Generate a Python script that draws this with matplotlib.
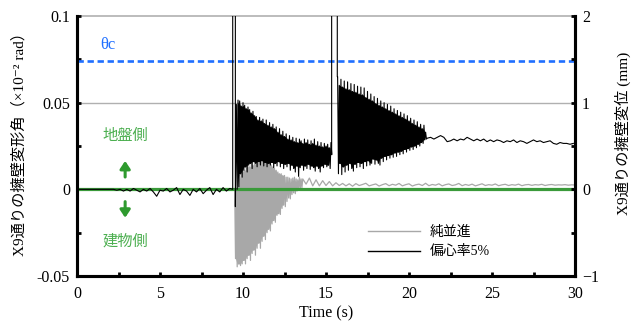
import numpy as np
import matplotlib
matplotlib.use("Agg")
import matplotlib.pyplot as plt
from matplotlib.lines import Line2D

plt.rcParams['font.family'] = ['Liberation Serif', 'Noto Sans CJK JP', 'DejaVu Sans']

# ---------------- data ----------------
# 純並進 (rotation angle, x10^-2 rad, left axis)
gray_pre_t = [0.0, 9.5]
gray_pre_v = [0.0, 0.0]
gray_dense_t0, gray_dense_dt = 9.5, 0.1
gray_dense_hi = [0.000, 0.000, 0.005, 0.008, 0.010, 0.012, 0.011, 0.013, 0.014, 0.013,
                 0.015, 0.014, 0.016, 0.015, 0.016, 0.017, 0.016, 0.017, 0.018, 0.017,
                 0.016, 0.015, 0.014, 0.013, 0.012, 0.011, 0.010, 0.009, 0.009, 0.008,
                 0.008, 0.007, 0.007, 0.0065, 0.006, 0.0065, 0.007, 0.006, 0.0055, 0.007,
                 0.006]
gray_dense_lo = [-0.040, -0.0447, -0.043, -0.044, -0.043, -0.041, -0.043, -0.040, -0.038, -0.041,
                 -0.037, -0.035, -0.038, -0.034, -0.031, -0.034, -0.030, -0.027, -0.029, -0.025,
                 -0.023, -0.024, -0.020, -0.018, -0.019, -0.015, -0.014, -0.0145, -0.011, -0.009,
                 -0.010, -0.007, -0.005, -0.0055, -0.003, -0.002, -0.0025, -0.001, 0.000, 0.0005,
                 0.001]
gray_tail_t0, gray_tail_dt = 13.6, 0.2
gray_tail_v = [0.006, 0.003, 0.0065, 0.002, 0.0055, 0.002, 0.005, 0.0022, 0.0045, 0.002,
               0.0038, 0.0022, 0.0034, 0.002, 0.0032, 0.0018, 0.0033, 0.0022, 0.0028, 0.0035,
               0.0020, 0.0026, 0.0031, 0.0019, 0.0027, 0.0033, 0.0021, 0.0029, 0.0024, 0.0034,
               0.0020, 0.0027, 0.0032, 0.0019, 0.0026, 0.0030, 0.0022, 0.0035, 0.0021, 0.0028,
               0.0024, 0.0032, 0.0020, 0.0027, 0.0031, 0.0022, 0.0026, 0.0034, 0.0021, 0.0028,
               0.0023, 0.0030, 0.0020, 0.0026, 0.0032, 0.0022, 0.0027, 0.0024, 0.0031, 0.0021,
               0.0026, 0.0029, 0.0022, 0.0027, 0.0024, 0.0030, 0.0021, 0.0026, 0.0028, 0.0023,
               0.0027, 0.0025, 0.0029, 0.0022, 0.0026, 0.0028, 0.0024, 0.0026, 0.0025, 0.0027,
               0.0024, 0.0026, 0.0025]

# 偏心率5% (displacement, mm, right axis)
blk_pre_t0, blk_pre_dt = 0.0, 0.2
blk_pre_v = [0.0, 0.0, 0.0, 0.0, 0.0, 0.0, 0.0, 0.0, 0.0, 0.0, 0.0, 0.0,
             -0.01, 0.00, -0.02, 0.00, -0.02, 0.01, -0.01, -0.03, 0.00, -0.02,
             0.01, -0.03, -0.08, -0.01, -0.02, 0.01, -0.03, -0.01, 0.02, -0.06,
             0.00, -0.02, -0.07, 0.00, -0.03, 0.01, -0.05, -0.01, 0.02, -0.06,
             0.00, -0.03, 0.02, -0.02, 0.01]
spike1_t = [9.36, 9.38, 9.38, 9.54, 9.54]
spike1_v = [0.0, 0.0, 10.0, 10.0, -0.20]
seg1_t0, seg1_dt = 9.6, 0.1
seg1_hi = [0.98, 1.03, 1.02, 0.96, 1.00, 0.97, 0.93, 0.95, 0.92, 0.88,
           0.90, 0.85, 0.84, 0.80, 0.83, 0.79, 0.81, 0.76, 0.80, 0.74,
           0.77, 0.72, 0.75, 0.70, 0.72, 0.66, 0.70, 0.63, 0.67, 0.61,
           0.64, 0.58, 0.62, 0.57, 0.60, 0.55, 0.59, 0.54, 0.58, 0.56,
           0.53, 0.58, 0.54, 0.57, 0.52, 0.56, 0.53, 0.58, 0.51, 0.55,
           0.50, 0.54, 0.49, 0.53, 0.50, 0.52, 0.48, 0.54]
seg1_lo = [0.00, 0.03, 0.18, 0.14, 0.22, 0.26, 0.20, 0.28, 0.30, 0.24,
           0.32, 0.30, 0.26, 0.32, 0.28, 0.33, 0.27, 0.31, 0.26, 0.30,
           0.28, 0.31, 0.25, 0.30, 0.27, 0.32, 0.26, 0.30, 0.24, 0.29,
           0.26, 0.30, 0.22, 0.28, 0.24, 0.20, 0.27, 0.15, 0.25, 0.28,
           0.22, 0.27, 0.24, 0.29, 0.23, 0.27, 0.25, 0.21, 0.27, 0.24,
           0.20, 0.27, 0.25, 0.29, 0.26, 0.28, 0.24, 0.40]
spike2_t = [15.34, 15.34, 15.68, 15.68]
spike2_v = [0.40, 10.0, 10.0, 1.30]
seg2_t0, seg2_dt = 15.7, 0.1
seg2_hi = [1.30, 1.20, 1.27, 1.18, 1.25, 1.16, 1.24, 1.15, 1.22, 1.13,
           1.21, 1.12, 1.19, 1.10, 1.18, 1.09, 1.17, 1.06, 1.13, 1.04,
           1.10, 1.02, 1.07, 0.99, 1.05, 0.97, 1.02, 0.95, 1.00, 0.93,
           0.98, 0.91, 0.96, 0.89, 0.93, 0.87, 0.91, 0.85, 0.89, 0.83,
           0.87, 0.81, 0.85, 0.79, 0.82, 0.76, 0.80, 0.74, 0.78, 0.72,
           0.75, 0.70, 0.74, 0.66]
seg2_lo = [0.18, 0.30, 0.17, 0.26, 0.20, 0.28, 0.22, 0.30, 0.24, 0.21,
           0.29, 0.25, 0.31, 0.26, 0.30, 0.24, 0.32, 0.27, 0.33, 0.28,
           0.30, 0.35, 0.29, 0.34, 0.30, 0.28, 0.36, 0.32, 0.38, 0.34,
           0.39, 0.36, 0.40, 0.37, 0.42, 0.38, 0.43, 0.40, 0.44, 0.41,
           0.46, 0.43, 0.47, 0.45, 0.49, 0.46, 0.50, 0.48, 0.52, 0.50,
           0.54, 0.53, 0.57, 0.58]
tail_t0, tail_dt = 21.1, 0.2
tail_v = [0.59, 0.60, 0.58, 0.60, 0.62, 0.60, 0.55, 0.56, 0.58, 0.56,
          0.58, 0.57, 0.60, 0.58, 0.56, 0.58, 0.56, 0.58, 0.55, 0.57,
          0.55, 0.57, 0.56, 0.54, 0.56, 0.55, 0.57, 0.54, 0.56, 0.55,
          0.53, 0.55, 0.57, 0.55, 0.56, 0.54, 0.55, 0.56, 0.53, 0.52,
          0.54, 0.53, 0.53, 0.52, 0.53]

theta_c = 0.074
series_labels = ['純並進', '偏心率5%']
x_ticks = [0, 5, 10, 15, 20, 25, 30]
yl_ticks = [-0.05, 0, 0.05, 0.1]
yl_labels = ['-0.05', '0', '0.05', '0.1']
yr_ticks = [-1, 0, 1, 2]


# ---------------- helpers ----------------
def regular(t0, dt, vals):
    return t0 + dt * np.arange(len(vals)), np.asarray(vals, float)


def zigzag(t0, dt, hi, lo):
    t = t0 + dt * np.arange(len(hi))
    x = np.empty(2 * len(hi)); y = np.empty(2 * len(hi))
    x[0::2] = t; x[1::2] = t + dt / 2
    y[0::2] = hi; y[1::2] = lo
    return x, y


def inner_band(t0, dt, hi, lo):
    # core band between neighbouring envelope values (spikes stick out of it)
    hi = np.asarray(hi, float); lo = np.asarray(lo, float)
    t = t0 + dt * np.arange(len(hi))
    return t[:-1] + dt / 2, np.minimum(hi[:-1], hi[1:]), np.maximum(lo[:-1], lo[1:])


gt_d, gv_d = zigzag(gray_dense_t0, gray_dense_dt, gray_dense_hi, gray_dense_lo)
gt_t, gv_t = regular(gray_tail_t0, gray_tail_dt, gray_tail_v)
gray_t = np.concatenate([gray_pre_t, gt_d, gt_t])
gray_v = np.concatenate([gray_pre_v, gv_d, gv_t])

bt_p, bv_p = regular(blk_pre_t0, blk_pre_dt, blk_pre_v)
bt_1, bv_1 = zigzag(seg1_t0, seg1_dt, seg1_hi, seg1_lo)
bt_2, bv_2 = zigzag(seg2_t0, seg2_dt, seg2_hi, seg2_lo)
bt_t, bv_t = regular(tail_t0, tail_dt, tail_v)
blk_t = np.concatenate([bt_p, spike1_t, bt_1, spike2_t, bt_2, bt_t])
blk_v = np.concatenate([bv_p, spike1_v, bv_1, spike2_v, bv_2, bv_t])

# ---------------- figure ----------------
fig = plt.figure(figsize=(6.33, 3.26), dpi=100)
ax = fig.add_axes([77 / 633, 50 / 326, 498 / 633, 260 / 326])
ax2 = ax.twinx()

green = '#3a9a3a'
gray_c = '#a8a8a8'
ax.axhline(0.05, color='#b0b0b0', lw=1.0, zorder=1)
ax.axhline(0.1, color='#b0b0b0', lw=1.2, zorder=1, clip_on=False)

# dense oscillation bands + oscillation line
gb_t, gb_hi, gb_lo = inner_band(gray_dense_t0, gray_dense_dt, gray_dense_hi[:31], gray_dense_lo[:31])
ax.fill_between(gb_t, gb_hi, gb_lo, color=gray_c, lw=0, zorder=2)
ax.plot(gray_t, gray_v, color=gray_c, lw=0.9, zorder=2)
ax.axhline(0.0, color=green, lw=2.3, zorder=3)
ax.axhline(theta_c, color='#1f6fff', lw=1.9, dashes=(2.4, 1.4), zorder=4)

for t0, dt, hi, lo in [(seg1_t0, seg1_dt, seg1_hi, seg1_lo), (seg2_t0, seg2_dt, seg2_hi, seg2_lo)]:
    bt, bhi, blo = inner_band(t0, dt, hi, lo)
    ax2.fill_between(bt, bhi, blo, color='black', lw=0, zorder=2)
ax2.plot(blk_t, blk_v, color='black', lw=0.8, zorder=2)

ax.set_xlim(0, 30)
ax.set_ylim(-0.05, 0.1)
ax2.set_ylim(-1, 2)

ax.set_xticks(x_ticks)
ax.set_xticks([2.5, 7.5, 12.5, 17.5, 22.5, 27.5], minor=True)
ax.set_yticks(yl_ticks)
ax.set_yticklabels(yl_labels)
ax.set_yticks([-0.025, 0.025, 0.075], minor=True)
ax2.set_yticks(yr_ticks)
ax2.set_yticks([-0.5, 0.5, 1.5], minor=True)

for a in (ax, ax2):
    for s in ['left', 'right', 'bottom']:
        a.spines[s].set_linewidth(2.2)
    a.spines['top'].set_visible(False)
    a.tick_params(which='both', direction='in', length=3, width=2, labelsize=11.5, pad=5)
ax.tick_params(axis='x', pad=7)
ax.patch.set_visible(False)
ax2.set_zorder(ax.get_zorder() + 1)
ax2.patch.set_visible(False)

ax.set_xlabel('Time (s)', fontsize=11.5, labelpad=3)
ax.set_ylabel('X9通りの擁壁変形角（×10⁻² rad）', fontsize=11)
ax.yaxis.set_label_coords(-0.102, 0.52)
ax2.set_ylabel('X9通りの擁壁変位 (mm)', fontsize=11)
ax2.yaxis.set_label_coords(1.079, 0.55)

ax.text(1.85, 0.0833, 'θc', color='#1f6fff', fontsize=12, ha='center', va='center')
ax.text(2.9, 0.031, '地盤側', color='#4caf50', fontsize=11, ha='center', va='center')
ax.text(2.9, -0.030, '建物側', color='#4caf50', fontsize=11, ha='center', va='center')
ax.annotate('', xy=(2.9, 0.018), xytext=(2.9, 0.0055),
            arrowprops=dict(arrowstyle='-|>,head_width=0.3,head_length=0.45', color='#2e9a2e', lw=2.2))
ax.annotate('', xy=(2.9, -0.018), xytext=(2.9, -0.0055),
            arrowprops=dict(arrowstyle='-|>,head_width=0.3,head_length=0.45', color='#2e9a2e', lw=2.2))

leg = ax2.legend([Line2D([], [], color=gray_c, lw=1.0), Line2D([], [], color='black', lw=1.0)],
                 series_labels, loc='upper left', bbox_to_anchor=(0.585, 0.195),
                 frameon=False, fontsize=10, handlelength=3.7, handletextpad=0.7,
                 labelspacing=0.5, borderpad=0, borderaxespad=0)

fig.savefig('out.png', dpi=100)
